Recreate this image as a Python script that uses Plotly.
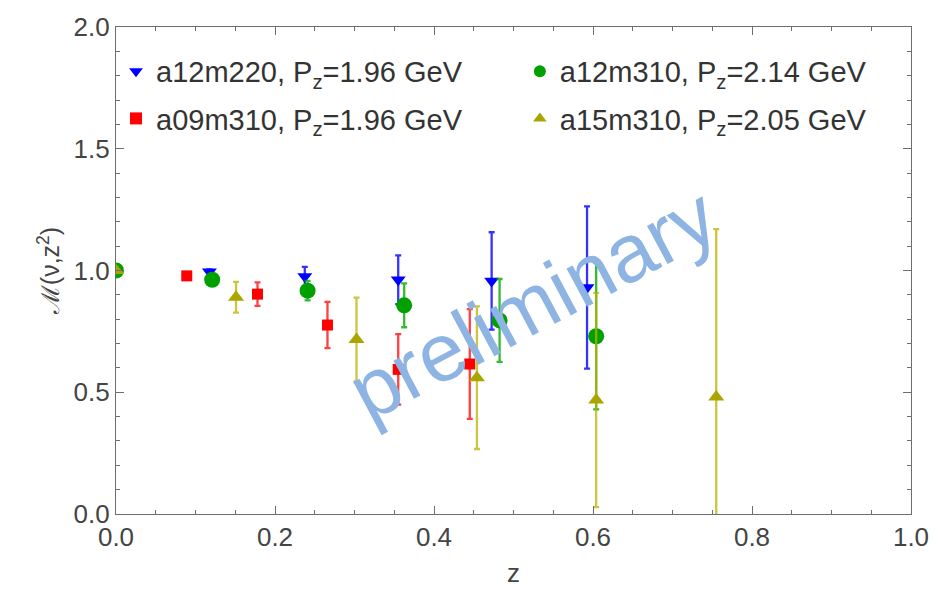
import plotly.graph_objects as go

# ---- data ----
blue_name = "a12m220, P<sub>z</sub>=1.96 GeV"
blue_x = [0.0, 0.1175, 0.2375, 0.355, 0.4725, 0.5925]
blue_y = [1.0, 0.995, 0.975, 0.962, 0.957, 0.93]
blue_err = [0.0, 0.01, 0.04, 0.1, 0.2, 0.333]

green_name = "a12m310, P<sub>z</sub>=2.14 GeV"
green_x = [0.0, 0.121, 0.241, 0.3625, 0.4825, 0.604]
green_y = [1.0, 0.962, 0.917, 0.857, 0.795, 0.73]
green_err = [0.0, 0.015, 0.04, 0.09, 0.17, 0.3]

red_name = "a09m310, P<sub>z</sub>=1.96 GeV"
red_x = [0.0, 0.089, 0.178, 0.266, 0.355, 0.445]
red_y = [1.0, 0.978, 0.903, 0.776, 0.594, 0.616]
red_err = [0.0, 0.01, 0.048, 0.095, 0.145, 0.225]

yellow_name = "a15m310, P<sub>z</sub>=2.05 GeV"
yellow_x = [0.0, 0.151, 0.3025, 0.454, 0.604, 0.755]
yellow_y = [1.0, 0.89, 0.717, 0.56, 0.468, 0.48]
yellow_err = [0.0, 0.063, 0.172, 0.293, 0.44, 0.69]

x_ticks = [0.0, 0.2, 0.4, 0.6, 0.8, 1.0]
y_ticks = [0.0, 0.5, 1.0, 1.5, 2.0]

FONT = "Liberation Sans, Arial, sans-serif"

fig = go.Figure()

def add(name, xs, ys, errs, color, errcolor, symbol, size, legend):
    fig.add_trace(go.Scatter(
        x=xs, y=ys, mode="markers", name=name, legend=legend,
        marker=dict(color=color, symbol=symbol, size=size, line=dict(width=0)),
        error_y=dict(type="data", array=errs, visible=True, color=errcolor,
                     thickness=2.3, width=3),
    ))

add(blue_name, blue_x, blue_y, blue_err, "#0000FF", "rgba(0,0,255,0.8)", "triangle-down", 13, "legend")
add(red_name, red_x, red_y, red_err, "#FF0000", "rgba(255,0,0,0.75)", "square", 11, "legend3")
add(green_name, green_x, green_y, green_err, "#00A000", "rgba(0,170,0,0.8)", "circle", 16, "legend2")
add(yellow_name, yellow_x, yellow_y, yellow_err, "#AAA500", "rgba(185,178,0,0.75)", "triangle-up", 14, "legend4")

axis_common = dict(
    showline=True, linecolor="#6e6e6e", linewidth=1.3, mirror="allticks",
    ticks="inside", ticklen=8, tickcolor="#6e6e6e", tickwidth=1.3,
    showgrid=False, zeroline=False,
    tickfont=dict(family=FONT, size=26, color="#444444"),
)

fig.update_xaxes(range=[0, 1.0], tickvals=x_ticks, tickformat=".1f",
                 minor=dict(ticks="inside", dtick=0.05, ticklen=4, tickcolor="#6e6e6e"),
                 title=dict(text="z", font=dict(family=FONT, size=26, color="#444444"), standoff=12),
                 **axis_common)
fig.update_yaxes(range=[0, 2.0], tickvals=y_ticks, tickformat=".1f",
                 minor=dict(ticks="inside", dtick=0.1, ticklen=4, tickcolor="#6e6e6e"),
                 title=dict(text="ℳ(ν,z<sup>2</sup>)", font=dict(family=FONT, size=25, color="#444444"), standoff=6),
                 **axis_common)

fig.add_annotation(
    text="preliminary", x=0.524, y=0.432, xref="paper", yref="paper",
    showarrow=False, textangle=-28,
    font=dict(family=FONT, size=82, color="rgb(141,180,226)"),
)

legend_common = dict(
    orientation="h", xanchor="left", yanchor="middle",
    font=dict(family=FONT, size=29, color="#333333"),
    bgcolor="rgba(0,0,0,0)", itemsizing="constant",
)

fig.update_layout(
    width=941, height=597,
    margin=dict(l=116, r=25, t=19, b=83),
    plot_bgcolor="white", paper_bgcolor="white",
    showlegend=True,
    legend=dict(x=0.0, y=0.909, **legend_common),
    legend2=dict(x=0.508, y=0.909, **legend_common),
    legend3=dict(x=0.0, y=0.812, **legend_common),
    legend4=dict(x=0.508, y=0.812, **legend_common),
)

fig.write_html("out.html")
